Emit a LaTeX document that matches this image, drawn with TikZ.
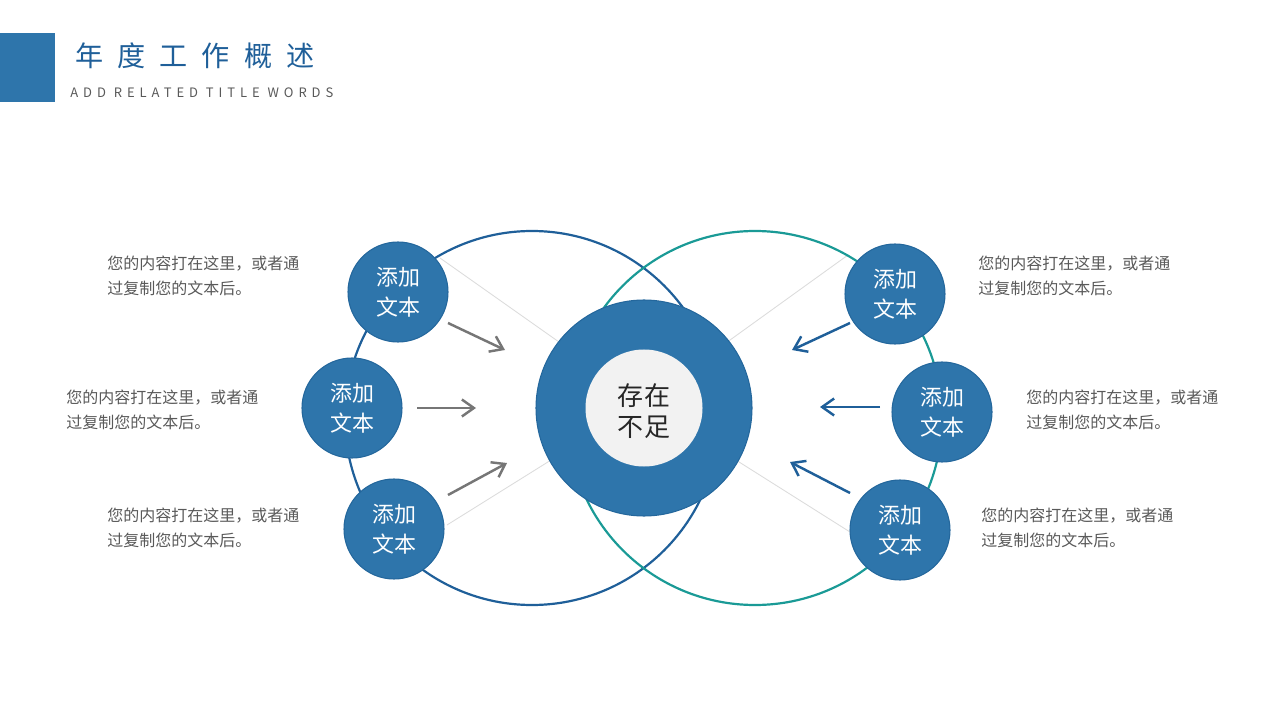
\documentclass[tikz,border=0pt]{standalone}
\usepackage{fontspec}
\setmainfont{Noto Sans CJK SC}
\usetikzlibrary{arrows.meta}
\definecolor{mainblue}{HTML}{2E75AB}
\definecolor{edgeblue}{HTML}{24679C}
\definecolor{titleblue}{HTML}{1F5F99}
\definecolor{ringblue}{HTML}{1F5F99}
\definecolor{ringteal}{HTML}{1A9A96}
\definecolor{textgray}{HTML}{595959}
\definecolor{arrowgray}{HTML}{767676}
\definecolor{faintgray}{HTML}{DCDCDC}
\definecolor{innergray}{HTML}{F2F2F2}

\begin{document}
\begin{tikzpicture}[x=0.2mm, y=-0.2mm,
  smallcirc/.style={circle, draw=edgeblue, line width=0.6pt, fill=mainblue, minimum size=20mm,
    inner sep=0pt, text=white, align=center, font=\fontsize{12.5}{17}\selectfont},
  desc/.style={anchor=north west, inner sep=0pt, align=left, text=textgray,
    font=\fontsize{9.1}{14.2}\selectfont},
  grayarrow/.style={draw=arrowgray, line width=1.4pt, -{Straight Barb[length=2.4mm, width=3.4mm]}},
  bluearrow/.style={draw=titleblue, line width=1.4pt, -{Straight Barb[length=2.4mm, width=3.4mm]}}]
  \useasboundingbox (0,0) rectangle (1280,720);

  % header
  \fill[mainblue] (0,33) rectangle (55,102);
  \node[anchor=west, inner sep=0pt, text=titleblue] (title) at (75,56)
    {\fontsize{16}{16}\selectfont\addfontfeature{LetterSpace=50}年度工作概述};
  \node[anchor=west, inner sep=0pt, text=textgray] (subtitle) at (70,93)
    {\fontsize{7.4}{7.4}\selectfont\addfontfeature{LetterSpace=38}ADD\ RELATED\ TITLE\ WORDS};

  % faint guide lines
  \coordinate (hub) at (644,402);
  \coordinate (glt) at (440,258);
  \coordinate (glb) at (447,525);
  \coordinate (grt) at (848,255);
  \coordinate (grb) at (850,532);
  \foreach \g in {glt,glb,grt,grb}
    \draw[faintgray, line width=0.5pt] (hub) -- (\g);

  % two big rings
  \draw[ringblue, line width=1.25pt] (532,418) circle (187);
  \draw[ringteal, line width=1.25pt] (755,418) circle (187);

  % centre
  \node[circle, fill=mainblue, draw=edgeblue, line width=0.6pt, minimum size=43.2mm] (core) at (644,408) {};
  \node[circle, fill=innergray, minimum size=23.4mm, inner sep=0pt] (inner) at (core) {};
  \node[align=center, inner sep=0pt, font=\fontsize{14.8}{17.5}\selectfont, text=black!85]
    (issue) at (644,411) {存在\\不足};

  % small circles
  \node[smallcirc] (l1) at (398,292) {添加\\文本};
  \node[smallcirc] (l2) at (352,408) {添加\\文本};
  \node[smallcirc] (l3) at (394,529) {添加\\文本};
  \node[smallcirc] (r1) at (895,294) {添加\\文本};
  \node[smallcirc] (r2) at (942,412) {添加\\文本};
  \node[smallcirc] (r3) at (900,530) {添加\\文本};

  % arrows
  \coordinate (al1) at (448,323); \coordinate (bl1) at (505,350);
  \coordinate (al2) at (417,408); \coordinate (bl2) at (476,408);
  \coordinate (al3) at (448,495); \coordinate (bl3) at (507,463);
  \coordinate (ar1) at (850,323); \coordinate (br1) at (792,350);
  \coordinate (ar2) at (880,407); \coordinate (br2) at (820,407);
  \coordinate (ar3) at (850,493); \coordinate (br3) at (790,462);
  \foreach \i in {1,2,3} {
    \draw[grayarrow] (al\i) -- (bl\i);
    \draw[bluearrow] (ar\i) -- (br\i);
  }

  % descriptions
  \node[desc] (t1) at (107,256) {您的内容打在这里，或者通\\过复制您的文本后。};
  \node[desc] (t2) at (66,390) {您的内容打在这里，或者通\\过复制您的文本后。};
  \node[desc] (t3) at (107,508) {您的内容打在这里，或者通\\过复制您的文本后。};
  \node[desc] (t4) at (978,256) {您的内容打在这里，或者通\\过复制您的文本后。};
  \node[desc] (t5) at (1026,390) {您的内容打在这里，或者通\\过复制您的文本后。};
  \node[desc] (t6) at (981,508) {您的内容打在这里，或者通\\过复制您的文本后。};
\end{tikzpicture}
\end{document}
